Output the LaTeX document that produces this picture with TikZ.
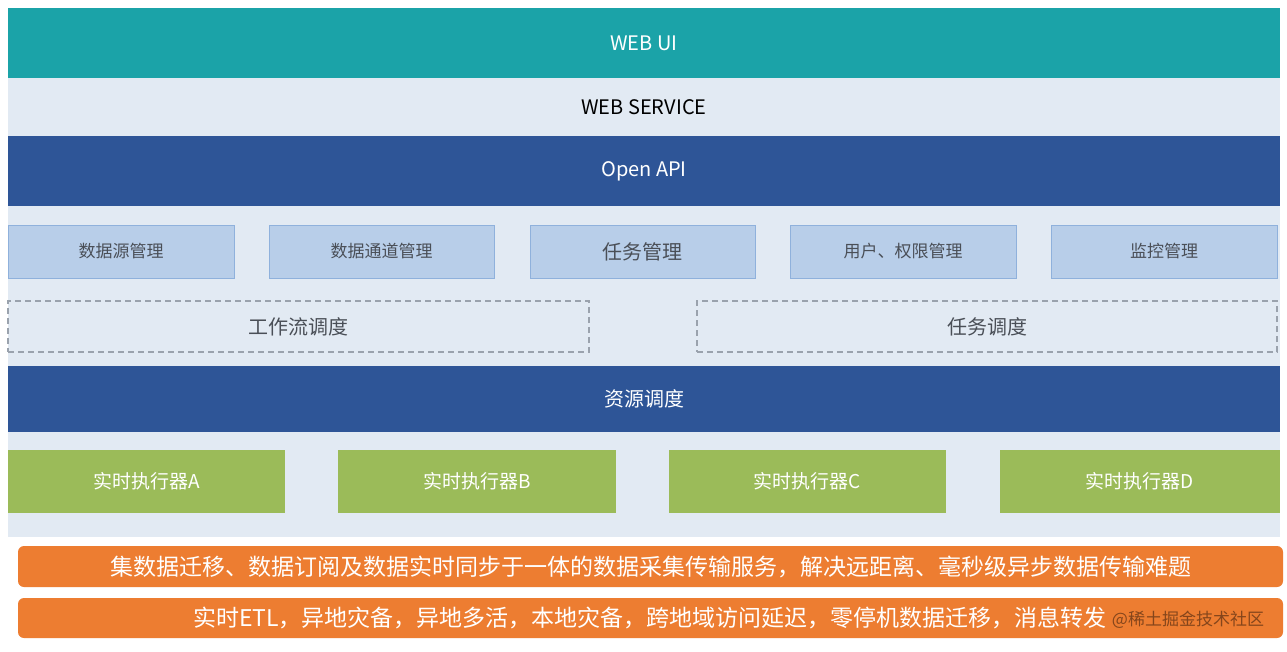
\documentclass[tikz,border=0pt]{standalone}
\usepackage{fontspec}
\setmainfont{Noto Sans CJK SC}
\definecolor{tealc}{HTML}{1BA3A8}
\definecolor{lightc}{HTML}{E2EAF3}
\definecolor{darkc}{HTML}{2E5597}
\definecolor{mgmtfill}{HTML}{B8CEE9}
\definecolor{mgmtline}{HTML}{8FB1DC}
\definecolor{mgmttext}{HTML}{4A4F57}
\definecolor{dashc}{HTML}{9AA2AD}
\definecolor{greenc}{HTML}{9BBB59}
\definecolor{orangec}{HTML}{ED7D31}
\tikzset{
  base/.style={inner sep=0pt, outer sep=0pt, anchor=center},
  band/.style={base, minimum width=1272pt, font=\fontsize{20}{24}\selectfont},
  mgmt/.style={base, fill=mgmtfill, draw=mgmtline, line width=1pt, minimum height=53pt, text=mgmttext, font=\fontsize{17}{20}\selectfont},
  sched/.style={base, draw=dashc, dash pattern=on 6pt off 4pt, line width=1.2pt, minimum height=51pt, text=mgmttext, font=\fontsize{20}{24}\selectfont},
  exec/.style={base, fill=greenc, minimum height=63pt, text=white, font=\fontsize{19}{22}\selectfont},
  feat/.style={base, fill=orangec, rounded corners=6pt, minimum width=1265pt, text=white, font=\fontsize{23}{27}\selectfont},
}
\begin{document}
\begin{tikzpicture}[x=1pt,y=-1pt]
\useasboundingbox[fill=white] (0,0) rectangle (1287,651);
% background panel
\node[base, fill=lightc, minimum width=1272pt, minimum height=459pt] (panel) at (644,307.5) {};
% top bands
\node[band, fill=tealc, minimum height=70pt, text=white] (webui) at (644,43) {WEB UI};
\node[band, minimum height=58pt, text=black] (websvc) at (644,107) {WEB SERVICE};
\node[band, fill=darkc, minimum height=70pt, text=white] (openapi) at (644,171) {Open API};
% management boxes
\node[mgmt, minimum width=226pt] (m1) at (121,251.5) {数据源管理};
\node[mgmt, minimum width=225pt] (m2) at (381.5,251.5) {数据通道管理};
\node[mgmt, minimum width=225pt, font=\fontsize{20}{24}\selectfont] (m3) at (642.5,251.5) {任务管理};
\node[mgmt, minimum width=226pt] (m4) at (903,251.5) {用户、权限管理};
\node[mgmt, minimum width=226pt] (m5) at (1164,251.5) {监控管理};
% scheduling
\node[sched, minimum width=581pt] (wf) at (298.5,326.5) {工作流调度};
\node[sched, minimum width=580pt] (ts) at (987,326.5) {任务调度};
% resource scheduling
\node[band, fill=darkc, minimum height=66pt, text=white] (res) at (644,399) {资源调度};
% executors
\node[exec, minimum width=277pt] (ea) at (146.5,481.5) {实时执行器A};
\node[exec, minimum width=278pt] (eb) at (477,481.5) {实时执行器B};
\node[exec, minimum width=277pt] (ec) at (807.5,481.5) {实时执行器C};
\node[exec, minimum width=280pt] (ed) at (1140,481.5) {实时执行器D};
% feature bars
\node[feat, minimum height=41pt] (f1) at (650.5,566.5) {集数据迁移、数据订阅及数据实时同步于一体的数据采集传输服务，解决远距离、毫秒级异步数据传输难题};
\node[feat, minimum height=40pt] (f2bar) at (650.5,618) {};
\node[base, text=white, font=\fontsize{23}{27}\selectfont] (f2) at (650,618) {实时ETL，异地灾备，异地多活，本地灾备，跨地域访问延迟，零停机数据迁移，消息转发};
\node[base, text=black!55!orangec, opacity=0.8, font=\fontsize{17}{20}\selectfont] (wm) at (1188,620) {@稀土掘金技术社区};
\end{tikzpicture}
\end{document}
